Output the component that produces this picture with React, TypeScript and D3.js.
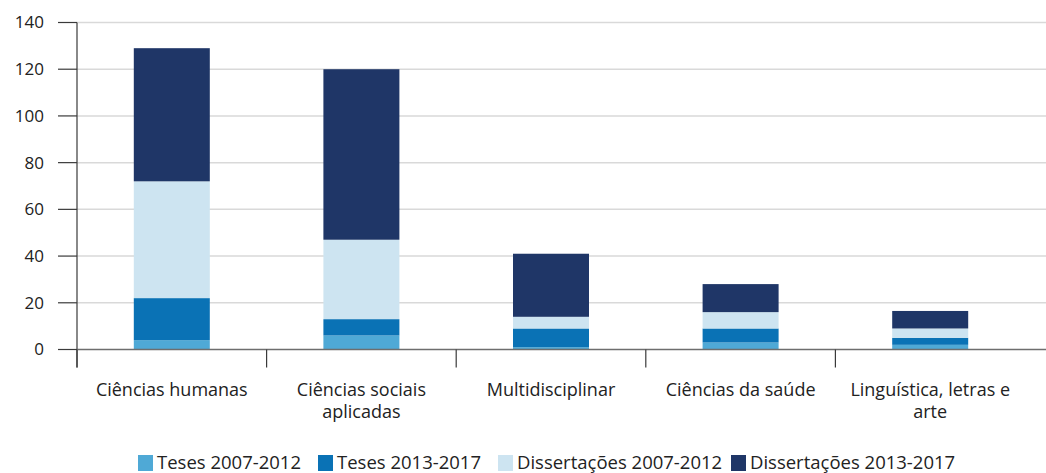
import React, { useEffect, useRef } from 'react';
import * as d3 from 'd3';

const categories = [
  'Ciências humanas',
  'Ciências sociais aplicadas',
  'Multidisciplinar',
  'Ciências da saúde',
  'Linguística, letras e arte',
];
// label lines as they wrap in the original
const categoryLines = [
  ['Ciências humanas'],
  ['Ciências sociais', 'aplicadas'],
  ['Multidisciplinar'],
  ['Ciências da saúde'],
  ['Linguística, letras e', 'arte'],
];

const seriesNames = ['Teses 2007-2012', 'Teses 2013-2017', 'Dissertações 2007-2012', 'Dissertações 2013-2017'];
const teses2007 = [4, 6, 1, 3, 2];
const teses2013 = [18, 7, 8, 6, 3];
const dissertacoes2007 = [50, 34, 5, 7, 4];
const dissertacoes2013 = [57, 73, 27, 12, 7.5];
const seriesColors = ['#4fa9d6', '#0a72b5', '#cde4f1', '#1f3667'];
const yTicks = [0, 20, 40, 60, 80, 100, 120, 140];

const W = 1046;
const H = 473;
const FONT = '"Open Sans", "Noto Sans", sans-serif';

const App = () => {
  const ref = useRef<SVGSVGElement>(null);

  useEffect(() => {
    const svg = d3.select(ref.current);
    svg.selectAll('*').remove();

    const margin = { top: 22.5, left: 77, right: 21, bottom: 123.5 };
    const height = H - margin.top - margin.bottom;

    const rows = categories.map((c, i) => ({
      cat: c,
      s0: teses2007[i],
      s1: teses2013[i],
      s2: dissertacoes2007[i],
      s3: dissertacoes2013[i],
    }));
    const stacked = d3.stack<any>().keys(['s0', 's1', 's2', 's3'])(rows);

    const x = d3.scaleBand().domain(categories).range([margin.left, W - margin.right]).paddingInner(0).paddingOuter(0);
    const y = d3.scaleLinear().domain([0, 140]).range([margin.top + height, margin.top]);
    const barW = 76;

    // gridlines
    svg.append('g')
      .selectAll('line')
      .data(yTicks.filter(t => t > 0))
      .enter().append('line')
      .attr('x1', margin.left)
      .attr('x2', W)
      .attr('y1', d => y(d))
      .attr('y2', d => y(d))
      .style('stroke', '#d9d9d9')
      .style('stroke-width', 1.5);

    // bars
    stacked.forEach((layer, li) => {
      svg.append('g')
        .selectAll('rect')
        .data(layer)
        .enter().append('rect')
        .attr('x', (d: any) => (x(d.data.cat) as number) + x.bandwidth() / 2 - barW / 2)
        .attr('y', (d: any) => y(d[1]))
        .attr('width', barW)
        .attr('height', (d: any) => y(d[0]) - y(d[1]))
        .style('fill', seriesColors[li]);
    });

    // y axis
    const yAxis = svg.append('g');
    yAxis.append('line')
      .attr('x1', margin.left).attr('x2', margin.left)
      .attr('y1', y(140)).attr('y2', y(0) + 18)
      .style('stroke', '#3a3a3a').style('stroke-width', 1.2);
    yAxis.selectAll('.tick')
      .data(yTicks)
      .enter().append('line')
      .attr('x1', 58).attr('x2', margin.left)
      .attr('y1', d => y(d)).attr('y2', d => y(d))
      .style('stroke', '#3a3a3a').style('stroke-width', 1.2);
    yAxis.selectAll('text')
      .data(yTicks)
      .enter().append('text')
      .attr('x', 44)
      .attr('y', d => y(d))
      .attr('dy', '0.35em')
      .attr('text-anchor', 'end')
      .text(d => d)
      .style('fill', '#222')
      .style('font-family', FONT)
      .style('font-size', '17px');

    // x axis
    const xAxis = svg.append('g');
    xAxis.append('line')
      .attr('x1', margin.left).attr('x2', W)
      .attr('y1', y(0)).attr('y2', y(0))
      .style('stroke', '#6e6e6e').style('stroke-width', 1.5);
    const bounds = categories.map(c => x(c) as number);
    xAxis.selectAll('.xt')
      .data(bounds)
      .enter().append('line')
      .attr('x1', d => d).attr('x2', d => d)
      .attr('y1', y(0)).attr('y2', y(0) + 18)
      .style('stroke', '#3a3a3a').style('stroke-width', 1.2);

    categoryLines.forEach((lines, i) => {
      const cx = (x(categories[i]) as number) + x.bandwidth() / 2;
      const t = xAxis.append('text')
        .attr('x', cx)
        .attr('y', 396)
        .attr('text-anchor', 'middle')
        .style('fill', '#222')
        .style('font-family', FONT)
        .style('font-size', '18px');
      lines.forEach((l, j) => {
        t.append('tspan')
          .attr('x', cx)
          .attr('dy', j === 0 ? 0 : 22)
          .text(l);
      });
    });

    // legend
    const legendX = [138, 318, 498, 731];
    const legend = svg.append('g');
    seriesNames.forEach((name, i) => {
      legend.append('rect')
        .attr('x', legendX[i]).attr('y', 455)
        .attr('width', 15).attr('height', 16)
        .style('fill', seriesColors[i]);
      legend.append('text')
        .attr('x', legendX[i] + 19).attr('y', 463)
        .attr('dy', '0.35em')
        .text(name)
        .style('fill', '#222')
        .style('font-family', FONT)
        .style('font-size', '18.5px');
    });
  }, []);

  return (
    <svg
      ref={ref}
      width={W}
      height={H}
      style={{ position: 'absolute', left: 0, top: 0, background: '#fff' }}
    />
  );
};

export default App;
